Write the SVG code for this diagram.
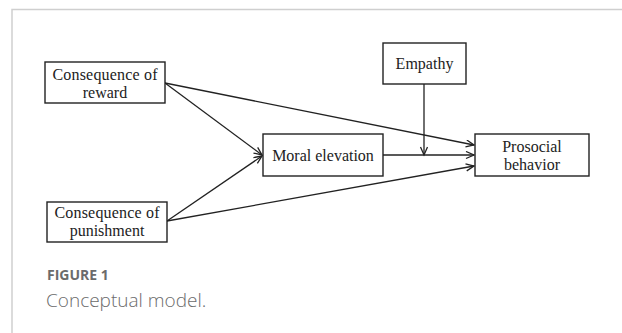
<svg xmlns="http://www.w3.org/2000/svg" width="622" height="333" viewBox="0 0 622 333">
<style>
.box{fill:#fff;stroke:#222;stroke-width:1.4}
.t{font-family:"Liberation Serif","Times New Roman",serif;font-size:16px;fill:#222;text-anchor:middle}
.c{fill:none;stroke:#222;stroke-width:1.3}
.cap1{font-family:"Open Sans","Noto Sans",sans-serif;font-size:14px;font-weight:700;fill:#6b6b6b}
.cap2{font-family:"Open Sans","Noto Sans",sans-serif;font-size:19px;font-weight:300;fill:#6b6b6b}
</style>
<defs>
<marker id="ah" markerUnits="userSpaceOnUse" markerWidth="12" markerHeight="12" refX="9" refY="4" orient="auto">
<path d="M1,0.5 L9,4 L1,7.5" fill="none" stroke="#222" stroke-width="1.3"/>
</marker>
</defs>
<rect width="622" height="333" fill="#fff"/>
<path d="M12,333 V9.5 H622" fill="none" stroke="#cfcfcf" stroke-width="1.5"/>
<g id="connectors">
<line class="c" x1="165" y1="83" x2="474" y2="145" marker-end="url(#ah)"/>
<line class="c" x1="165" y1="83" x2="262" y2="155" marker-end="url(#ah)"/>
<line class="c" x1="167" y1="221" x2="262" y2="156" marker-end="url(#ah)"/>
<line class="c" x1="167" y1="221" x2="474" y2="166" marker-end="url(#ah)"/>
<line class="c" x1="383" y1="155" x2="474" y2="155" marker-end="url(#ah)"/>
<line class="c" x1="424" y1="84" x2="424" y2="155" marker-end="url(#ah)"/>
</g>
<g id="reward">
<rect class="box" x="45" y="62" width="120" height="41"/>
<text class="t" x="105" y="80" textLength="105" lengthAdjust="spacing">Consequence of</text>
<text class="t" x="105" y="98">reward</text>
</g>
<g id="punishment">
<rect class="box" x="47" y="202" width="120" height="40"/>
<text class="t" x="107" y="218" textLength="105" lengthAdjust="spacing">Consequence of</text>
<text class="t" x="107" y="236">punishment</text>
</g>
<g id="moral">
<rect class="box" x="263" y="134" width="120" height="42"/>
<text class="t" x="323" y="161">Moral elevation</text>
</g>
<g id="empathy">
<rect class="box" x="383" y="43" width="83" height="41"/>
<text class="t" x="424.5" y="69">Empathy</text>
</g>
<g id="prosocial">
<rect class="box" x="475" y="134" width="114" height="42"/>
<text class="t" x="532" y="152">Prosocial</text>
<text class="t" x="532" y="170">behavior</text>
</g>
<text class="cap1" x="47" y="280">FIGURE 1</text>
<text class="cap2" x="46" y="307">Conceptual model.</text>
</svg>
